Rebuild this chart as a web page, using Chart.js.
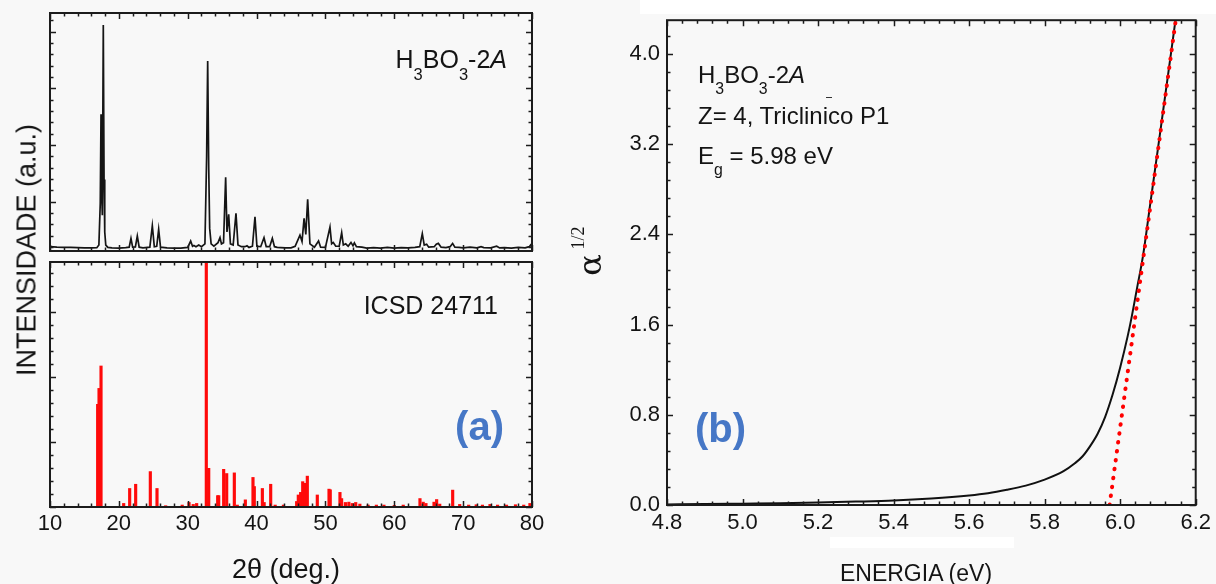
<!DOCTYPE html>
<html><head><meta charset="utf-8">
<script src="https://cdn.jsdelivr.net/npm/chart.js@4.4.1/dist/chart.umd.min.js"></script>
<style>
html,body{margin:0;padding:0;background:#f8f8f8;width:1216px;height:584px;overflow:hidden;font-family:"Liberation Sans",Arial,sans-serif;}
canvas{position:absolute;}
.t{position:absolute;white-space:nowrap;color:#141414;line-height:1;}
.sb{font-size:0.66em;position:relative;top:0.72em;}
.blue{color:#4677c6;font-weight:bold;}
</style></head><body>
<div style="position:absolute;left:640px;top:0;width:576px;height:14px;background:#fff"></div>
<div style="position:absolute;left:830px;top:537px;width:184px;height:11px;background:#fff"></div>
<canvas id="cA" width="560" height="258" style="left:0;top:0"></canvas>
<canvas id="cB" width="560" height="326" style="left:0;top:258px"></canvas>
<canvas id="cC" width="656" height="584" style="left:560px;top:0"></canvas>

<div class="t" style="left:27px;top:250px;font-size:27px;transform:translate(-50%,-50%) rotate(-90deg);">INTENSIDADE (a.u.)</div>
<div class="t" style="left:286px;top:569px;font-size:27px;transform:translate(-50%,-50%);">2θ (deg.)</div>
<div class="t" style="right:709px;top:47px;font-size:25px;">H<span class="sb">3</span>BO<span class="sb">3</span>-2<i>A</i></div>
<div class="t" style="right:718px;top:293px;font-size:25px;">ICSD 24711</div>
<div class="t blue" style="right:712px;top:406px;font-size:40px;">(a)</div>

<div class="t" style="left:590px;top:265px;font-size:32px;font-family:'DejaVu Serif','Liberation Serif',serif;transform:translate(-50%,-50%) rotate(-90deg);">α</div>
<div class="t" style="left:578px;top:238px;font-size:18px;font-family:'Liberation Serif',serif;transform:translate(-50%,-50%) rotate(-90deg);">1/2</div>
<div class="t" style="left:916px;top:573px;font-size:23px;transform:translate(-50%,-50%);">ENERGIA (eV)</div>
<div class="t" style="left:698px;top:63px;font-size:24px;">H<span class="sb">3</span>BO<span class="sb">3</span>-2<i>A</i></div>
<div style="position:absolute;left:826px;top:97px;width:6px;height:1px;background:#333"></div>
<div class="t" style="left:698px;top:104px;font-size:24px;">Z= 4, Triclinico P1</div>
<div class="t" style="left:698px;top:144px;font-size:24px;">E<span class="sb">g</span> = 5.98 eV</div>
<div class="t blue" style="left:695px;top:408px;font-size:40px;">(b)</div>

<script>
// ---------- Panel (a) top: measured pattern H3BO3-2A (2theta, counts)
const twoTheta = [10.0,11.0,12.0,13.0,14.0,15.0,16.0,16.8,17.1,17.3,17.41,17.5,17.6,17.74,17.85,17.95,18.1,18.4,19.0,20.0,
 21.0,21.5,21.76,22.0,22.4,22.68,22.95,23.5,24.5,24.86,25.15,25.5,25.78,26.05,27.0,28.0,29.0,30.0,30.43,30.7,
 30.9,31.2,31.6,32.0,32.5,32.75,32.9,33.05,33.19,33.4,33.8,34.4,34.69,34.9,35.2,35.51,35.7,35.95,36.2,36.6,
 37.01,37.3,37.8,38.3,38.61,38.9,39.4,39.77,40.05,40.6,41.08,41.4,41.9,42.29,42.6,43.0,43.5,44.2,45.0,45.6,
 46.3,46.6,46.9,47.15,47.42,47.75,48.4,49.0,49.3,50.0,50.66,50.9,51.14,51.5,52.0,52.36,52.6,52.95,53.3,53.71,
 54.0,54.2,54.5,55.3,56.0,57.0,58.0,59.0,60.0,61.0,62.0,63.0,63.7,64.07,64.35,64.7,65.0,65.8,66.1,66.4,
 66.8,67.5,68.1,68.47,68.8,69.4,70.0,71.0,72.0,72.6,73.0,74.0,74.87,75.3,76.0,77.0,78.0,79.0,79.6,79.8,80.0];
const counts = [208,199,195,195,191,187,187,191,237,972,2542,1182,762,4120,1391,468,237,195,187,182,
 191,199,355,199,203,396,199,187,199,577,208,216,514,199,187,182,182,195,308,216,
 229,208,237,208,258,1811,3482,1601,531,258,216,279,367,258,279,1433,468,779,258,237,
 795,237,208,208,224,195,216,737,216,208,367,208,208,355,208,195,191,187,187,216,
 413,300,707,426,1043,258,199,308,199,195,552,258,283,216,216,455,237,258,216,283,
 224,275,208,199,182,191,182,195,182,191,187,195,208,438,237,250,199,208,250,266,
 199,191,208,266,199,195,187,199,187,208,191,187,216,187,191,182,195,187,208,237,199];

// ---------- Panel (a) bottom: reference ICSD 24711 (2theta, relative intensity)
const icsdTheta = [16.92,17.12,17.41,20.70,21.57,22.44,24.57,25.54,26.8,29.2,30.19,30.8,31.3,32.7,33.05,34.35,34.5,35.22,35.66,36.77,
 37.2,38.37,39.48,39.67,40.84,41.1,42.05,42.7,43.9,45.82,46.06,46.4,46.7,46.99,47.37,48.82,50.52,50.7,52.11,52.35,
 52.9,53.4,53.9,54.4,55.0,56.2,57.4,58.5,60.0,61.3,63.73,64.2,64.6,65.77,66.15,66.6,68.48,69.5,70.8,71.9,
 72.8,73.9,75.0,76.3,77.6,78.8,79.7];
const icsdInt = [31.6,36.5,43.4,1.1,5.7,7.0,10.9,5.7,0.4,0.6,1.4,0.8,1.1,100,11.9,3.5,3.5,11.6,10.3,10.5,
 0.6,2.2,9.1,6.3,5.7,1.4,7.0,0.6,0.6,1.7,3.7,4.5,7.8,7.3,9.5,3.7,5.5,5.3,4.5,2.6,
 1.4,1.5,1.1,1.4,0.9,0.6,0.6,0.6,0.5,0.6,2.6,1.5,1.1,1.5,2.3,0.9,5.2,0.8,0.6,0.7,
 0.6,0.8,0.6,0.6,0.7,0.6,1.1];

// ---------- Panel (b): absorption edge and linear fit
const energy = [4.80,4.90,5.00,5.10,5.20,5.30,5.40,5.50,5.60,5.65,5.70,5.75,5.80,5.85,5.88,5.90,5.92,5.94,5.96,5.98,
 6.00,6.02,6.03,6.045,6.06,6.08,6.10,6.12,6.14,6.15];
const alphaHalf = [0.005,0.008,0.012,0.016,0.022,0.030,0.040,0.058,0.085,0.105,0.135,0.172,0.225,0.300,0.37,0.43,0.52,0.63,0.78,0.98,
 1.22,1.50,1.66,1.93,2.20,2.68,3.16,3.65,4.14,4.39];
const fitEnergy = [5.972, 6.152];
const fitAlpha = [0, 4.42];

// ---------- Tick labels
const xTickA = [10,20,30,40,50,60,70,80];
const xTickB = [4.8,5.0,5.2,5.4,5.6,5.8,6.0,6.2];
const yTickB = [0.0,0.8,1.6,2.4,3.2,4.0];

Chart.defaults.font.family = "'Liberation Sans', Arial, sans-serif";
Chart.defaults.color = '#141414';
Chart.defaults.animation = false;

const frameTicks = {
  id: 'frameTicks',
  afterDatasetsDraw(chart, args, o) {
    const {ctx, chartArea: a} = chart;
    const xs = chart.scales.x, ys = chart.scales.y;
    ctx.save();
    ctx.strokeStyle = '#1c1c1c';
    ctx.lineWidth = 1.5;
    ctx.beginPath();
    const maj = 6, mnr = 3.5;
    let i0 = Math.ceil(xs.min / o.xMinor - 1e-6), i1 = Math.floor(xs.max / o.xMinor + 1e-6);
    for (let i = i0; i <= i1; i++) {
      const px = Math.round(xs.getPixelForValue(i * o.xMinor)) + 0.5;
      const L = (i % o.xSub === 0) ? maj : mnr;
      ctx.moveTo(px, a.bottom); ctx.lineTo(px, a.bottom - L);
      ctx.moveTo(px, a.top); ctx.lineTo(px, a.top + L);
    }
    i0 = Math.ceil(ys.min / o.yMinor - 1e-6); i1 = Math.floor(ys.max / o.yMinor + 1e-6);
    for (let i = i0; i <= i1; i++) {
      const py = Math.round(ys.getPixelForValue(i * o.yMinor)) + 0.5;
      const L = (i % o.ySub === 0) ? maj : mnr;
      ctx.moveTo(a.left, py); ctx.lineTo(a.left + L, py);
      ctx.moveTo(a.right, py); ctx.lineTo(a.right - L, py);
    }
    ctx.stroke();
    ctx.lineWidth = 2;
    ctx.strokeRect(a.left, a.top, a.right - a.left, a.bottom - a.top);
    ctx.restore();
  }
};

const hidden = {display:false};

// Top-left panel
new Chart(document.getElementById('cA'), {
  type: 'line',
  data: { datasets: [{
    data: twoTheta.map((x, i) => ({x, y: counts[i]})),
    borderColor: '#151515', borderWidth: 1.7, pointRadius: 0, tension: 0
  }]},
  options: {
    responsive: false, clip: 0,
    layout: {padding: {left: 50, top: 13, right: 28, bottom: 7}},
    plugins: {legend: hidden, tooltip: {enabled:false}, frameTicks: {xMinor: 2, xSub: 5, yMinor: 200, ySub: 5}},
    scales: {
      x: {type: 'linear', min: 10, max: 80, display: false},
      y: {type: 'linear', min: 132, max: 4330, display: false}
    }
  },
  plugins: [frameTicks]
});

// Bottom-left panel
new Chart(document.getElementById('cB'), {
  type: 'bar',
  data: { datasets: [{
    data: icsdTheta.map((x, i) => ({x, y: icsdInt[i]})),
    backgroundColor: '#ff0a0a', barThickness: 2.5, clip: 0
  }]},
  options: {
    responsive: false,
    layout: {padding: {left: 50, top: 4, right: 28, bottom: 0}},
    plugins: {legend: hidden, tooltip: {enabled:false}, frameTicks: {xMinor: 2, xSub: 5, yMinor: 4, ySub: 5}},
    scales: {
      x: {type: 'linear', min: 10, max: 80, offset: false,
          grid: {display: false, drawTicks: false}, border: {display: false},
          afterBuildTicks: s => { s.ticks = xTickA.map(v => ({value: v})); },
          afterFit: s => { s.height = 77; },
          ticks: {font: {size: 22}, padding: 4, maxRotation: 0, autoSkip: false}},
      y: {type: 'linear', min: 0, max: 75.4, display: false}
    }
  },
  plugins: [frameTicks]
});

// Right panel
new Chart(document.getElementById('cC'), {
  type: 'line',
  data: { datasets: [
    { data: fitEnergy.map((x, i) => ({x, y: fitAlpha[i]})),
      borderColor: '#ff0000', borderWidth: 4, borderDash: [0.5, 8.5], borderCapStyle: 'round',
      pointRadius: 0, tension: 0 },
    { data: energy.map((x, i) => ({x, y: alphaHalf[i]})),
      borderColor: '#111111', borderWidth: 2, pointRadius: 0, cubicInterpolationMode: 'monotone' }
  ]},
  options: {
    responsive: false,
    layout: {padding: {left: 0, top: 20, right: 17, bottom: 0}},
    plugins: {legend: hidden, tooltip: {enabled:false}, frameTicks: {xMinor: 0.04, xSub: 5, yMinor: 0.16, ySub: 5}},
    scales: {
      x: {type: 'linear', min: 4.8, max: 6.2,
          grid: {display: false, drawTicks: false}, border: {display: false},
          afterBuildTicks: s => { s.ticks = xTickB.map(v => ({value: v})); },
          afterFit: s => { s.height = 79; },
          ticks: {font: {size: 22}, padding: 5, maxRotation: 0, autoSkip: false, callback: v => Number(v).toFixed(1)}},
      y: {type: 'linear', min: 0, max: 4.3,
          grid: {display: false, drawTicks: false}, border: {display: false},
          afterBuildTicks: s => { s.ticks = yTickB.map(v => ({value: v})); },
          afterFit: s => { s.width = 107; },
          ticks: {font: {size: 22}, padding: 7, autoSkip: false, callback: v => Number(v).toFixed(1)}}
    }
  },
  plugins: [frameTicks]
});
</script>
</body></html>
